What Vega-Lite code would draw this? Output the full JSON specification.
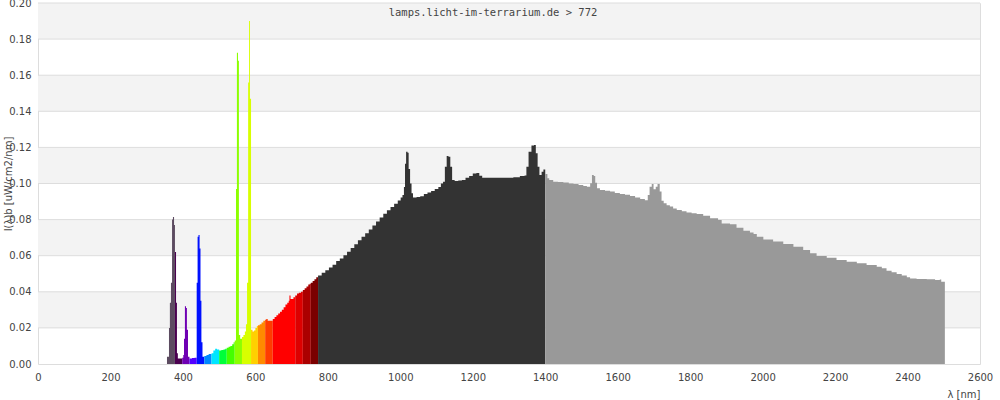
{
  "$schema": "https://vega.github.io/schema/vega-lite/v6.json",
  "width": 942,
  "height": 361,
  "autosize": {"type": "none"},
  "padding": {"left": 38, "top": 3, "right": 20, "bottom": 36},
  "background": "white",
  "config": {
    "view": {"stroke": "#dddddd", "strokeWidth": 1},
    "axis": {"domain": false, "ticks": false, "tickSize": 0, "grid": false, "labelFont": "DejaVu Sans", "labelFontSize": 10, "labelColor": "#444444", "titleFont": "DejaVu Sans", "titleFontSize": 10, "titleFontWeight": "normal", "titleColor": "#444444", "labelFlush": false, "labelOverlap": false, "labelBound": false}
  },
  "title": {"text": "lamps.licht-im-terrarium.de > 772", "font": "DejaVu Sans Mono", "fontSize": 10.5, "fontWeight": "normal", "color": "#444444", "anchor": "middle", "offset": -19, "dx": -16, "dy": 1},
  "datasets": {
    "bands": [
      {"lo": 0.02, "hi": 0.04},
      {"lo": 0.06, "hi": 0.08},
      {"lo": 0.10, "hi": 0.12},
      {"lo": 0.14, "hi": 0.16},
      {"lo": 0.18, "hi": 0.20}
    ],
    "spec": [
      {"w":356,"v":0.004},{"w":359,"v":0.004},{"w":361.5,"v":0.020},{"w":364,"v":0.034},{"w":367,"v":0.045},{"w":370,"v":0.080},{"w":372.5,"v":0.0815},{"w":375.5,"v":0.077},
      {"w":378,"v":0.062},{"w":381,"v":0.034},{"w":383.5,"v":0.006},{"w":386,"v":0.003},{"w":392,"v":0.003},
      {"w":398,"v":0.0035},{"w":401,"v":0.005},{"w":403,"v":0.014},{"w":405.5,"v":0.032},{"w":408.5,"v":0.031},{"w":411,"v":0.019},{"w":414,"v":0.004},
      {"w":418,"v":0.003},{"w":425,"v":0.0033},{"w":432,"v":0.0035},
      {"w":438,"v":0.045},{"w":440.5,"v":0.0705},{"w":443,"v":0.0715},{"w":446,"v":0.064},{"w":448.5,"v":0.035},{"w":451,"v":0.012},{"w":454,"v":0.004},
      {"w":459,"v":0.0045},{"w":465,"v":0.005},{"w":471,"v":0.0055},
      {"w":479,"v":0.006},{"w":484,"v":0.0075},{"w":489,"v":0.0085},{"w":494,"v":0.008},
      {"w":500,"v":0.0075},{"w":506,"v":0.0078},{"w":512,"v":0.008},{"w":517,"v":0.0085},
      {"w":521,"v":0.009},{"w":526,"v":0.0095},{"w":531,"v":0.010},{"w":536,"v":0.011},{"w":540,"v":0.012},
      {"w":543,"v":0.013},{"w":546.5,"v":0.097},{"w":549,"v":0.1725},{"w":552,"v":0.168},{"w":554.5,"v":0.016},{"w":558,"v":0.014},
      {"w":563,"v":0.015},{"w":567,"v":0.016},{"w":571,"v":0.018},{"w":574,"v":0.022},{"w":577,"v":0.045},{"w":580,"v":0.156},{"w":582.5,"v":0.19},{"w":585,"v":0.147},
      {"w":588,"v":0.019},{"w":592,"v":0.018},{"w":596,"v":0.0185},{"w":600,"v":0.020},{"w":604,"v":0.021},
      {"w":607,"v":0.0215},{"w":612,"v":0.022},{"w":617,"v":0.023},{"w":622,"v":0.024},
      {"w":627,"v":0.0245},{"w":630,"v":0.025},{"w":634,"v":0.024},{"w":641,"v":0.024},
      {"w":648,"v":0.025},{"w":653,"v":0.026},{"w":658,"v":0.027},{"w":663,"v":0.028},{"w":668,"v":0.029},{"w":673,"v":0.030},{"w":678,"v":0.0315},{"w":683,"v":0.033},{"w":688,"v":0.034},{"w":692,"v":0.035},{"w":694,"v":0.038},{"w":697,"v":0.036},{"w":701,"v":0.036},{"w":705,"v":0.037},
      {"w":710,"v":0.038},{"w":715,"v":0.039},{"w":720,"v":0.0395},{"w":726,"v":0.040},
      {"w":731,"v":0.041},{"w":736,"v":0.042},{"w":741,"v":0.043},{"w":746,"v":0.044},{"w":750,"v":0.0445},
      {"w":753,"v":0.045},{"w":758,"v":0.046},{"w":763,"v":0.047},{"w":768,"v":0.048},
      {"w":773,"v":0.049},{"w":783,"v":0.0505},{"w":793,"v":0.052},{"w":803,"v":0.0535},{"w":813,"v":0.055},{"w":823,"v":0.057},{"w":833,"v":0.0585},{"w":843,"v":0.0603},{"w":853,"v":0.0622},{"w":863,"v":0.0642},{"w":873,"v":0.0663},{"w":883,"v":0.0685},{"w":893,"v":0.0705},{"w":903,"v":0.0725},{"w":913,"v":0.0745},{"w":923,"v":0.0767},{"w":933,"v":0.079},{"w":943,"v":0.0812},{"w":953,"v":0.0833},{"w":963,"v":0.0852},{"w":973,"v":0.087},{"w":983,"v":0.0888},{"w":993,"v":0.0906},
      {"w":1001,"v":0.0922},{"w":1006,"v":0.0936},{"w":1010,"v":0.098},{"w":1013,"v":0.111},{"w":1016,"v":0.1176},{"w":1020,"v":0.117},{"w":1023,"v":0.108},{"w":1027,"v":0.100},{"w":1031,"v":0.0946},{"w":1035,"v":0.0922},
      {"w":1045,"v":0.0925},{"w":1055,"v":0.093},{"w":1065,"v":0.0942},{"w":1075,"v":0.095},{"w":1085,"v":0.0958},{"w":1095,"v":0.097},{"w":1105,"v":0.098},{"w":1112,"v":0.100},{"w":1118,"v":0.101},
      {"w":1123,"v":0.1093},{"w":1128,"v":0.1152},{"w":1133,"v":0.1148},{"w":1138,"v":0.1093},{"w":1143,"v":0.102},{"w":1150,"v":0.1014},{"w":1160,"v":0.1016},{"w":1170,"v":0.102},{"w":1180,"v":0.1032},{"w":1190,"v":0.1042},{"w":1200,"v":0.1055},{"w":1210,"v":0.1058},{"w":1218,"v":0.1043},{"w":1226,"v":0.1032},
      {"w":1312,"v":0.1035},{"w":1330,"v":0.1042},{"w":1343,"v":0.1045},{"w":1348,"v":0.1093},{"w":1354,"v":0.1176},{"w":1362,"v":0.121},{"w":1369,"v":0.1213},{"w":1374,"v":0.1167},{"w":1379,"v":0.1093},{"w":1384,"v":0.1047},{"w":1390,"v":0.1065},{"w":1395,"v":0.1078},
      {"w":1400,"v":0.1053},{"w":1406,"v":0.1029},{"w":1411,"v":0.1019},{"w":1422,"v":0.101},{"w":1435,"v":0.1008},{"w":1450,"v":0.1006},{"w":1465,"v":0.100},{"w":1478,"v":0.0997},{"w":1492,"v":0.0992},{"w":1505,"v":0.0986},{"w":1515,"v":0.0982},
      {"w":1524,"v":0.1001},{"w":1529,"v":0.1047},{"w":1534,"v":0.1042},{"w":1538,"v":0.1004},{"w":1543,"v":0.0973},{"w":1551,"v":0.0964},{"w":1565,"v":0.096},{"w":1579,"v":0.0955},{"w":1592,"v":0.0948},{"w":1606,"v":0.0942},{"w":1620,"v":0.0937},{"w":1634,"v":0.0931},{"w":1648,"v":0.0922},{"w":1662,"v":0.0914},{"w":1675,"v":0.0907},
      {"w":1683,"v":0.0936},{"w":1688,"v":0.0982},{"w":1694,"v":0.0997},{"w":1699,"v":0.0968},{"w":1705,"v":0.0982},{"w":1710,"v":0.0997},{"w":1716,"v":0.0955},{"w":1721,"v":0.0905},{"w":1727,"v":0.089},{"w":1735,"v":0.088},{"w":1744,"v":0.0872},{"w":1753,"v":0.0862},{"w":1763,"v":0.0853},{"w":1777,"v":0.0846},{"w":1790,"v":0.084},{"w":1804,"v":0.0835},{"w":1818,"v":0.0831},{"w":1836,"v":0.0822},{"w":1855,"v":0.0807},{"w":1877,"v":0.0798},{"w":1887,"v":0.0779},{"w":1910,"v":0.0774},{"w":1928,"v":0.0755},{"w":1947,"v":0.0738},{"w":1965,"v":0.0728},{"w":1975,"v":0.072},{"w":1984,"v":0.0705},
      {"w":2002,"v":0.069},{"w":2029,"v":0.0678},{"w":2057,"v":0.0665},{"w":2085,"v":0.065},{"w":2112,"v":0.0632},{"w":2131,"v":0.0613},{"w":2149,"v":0.0598},{"w":2177,"v":0.0589},{"w":2204,"v":0.0576},{"w":2232,"v":0.0567},{"w":2260,"v":0.0558},{"w":2287,"v":0.0548},{"w":2315,"v":0.0539},{"w":2329,"v":0.053},{"w":2342,"v":0.0517},{"w":2356,"v":0.0508},{"w":2370,"v":0.0499},{"w":2384,"v":0.049},{"w":2398,"v":0.048},{"w":2407,"v":0.0474},{"w":2425,"v":0.0471},{"w":2453,"v":0.0469},{"w":2476,"v":0.0465},{"w":2489,"v":0.0468},{"w":2493,"v":0.0456},
      {"w":2503,"v":0}
    ]
  },
  "layer": [
    {
      "data": {"name": "bands"},
      "mark": {"type": "rect", "color": "#f3f3f3"},
      "encoding": {
        "y": {"field": "lo", "type": "quantitative", "scale": {"domain": [0, 0.2], "nice": false, "zero": true, "padding": 0},
              "axis": {"title": "I(λ)b [uW/cm2/nm]", "values": [0, 0.02, 0.04, 0.06, 0.08, 0.1, 0.12, 0.14, 0.16, 0.18, 0.2], "format": ".2f", "labelPadding": 7, "titleX": -30, "titleY": 180.5, "titleAngle": 270, "titleAlign": "center", "titleBaseline": "middle"}},
        "y2": {"field": "hi"}
      }
    },
    {
      "data": {"name": "bands"},
      "mark": {"type": "rule", "color": "#dddddd", "strokeWidth": 1},
      "encoding": {"y": {"field": "lo", "type": "quantitative",
              "axis": {"title": "I(λ)b [uW/cm2/nm]", "values": [0, 0.02, 0.04, 0.06, 0.08, 0.1, 0.12, 0.14, 0.16, 0.18, 0.2], "format": ".2f", "labelPadding": 7, "titleX": -30, "titleY": 180.5, "titleAngle": 270, "titleAlign": "center", "titleBaseline": "middle"}}}
    },
    {
      "data": {"name": "bands"},
      "mark": {"type": "rule", "color": "#dddddd", "strokeWidth": 1},
      "encoding": {"y": {"field": "hi", "type": "quantitative",
              "axis": {"title": "I(λ)b [uW/cm2/nm]", "values": [0, 0.02, 0.04, 0.06, 0.08, 0.1, 0.12, 0.14, 0.16, 0.18, 0.2], "format": ".2f", "labelPadding": 7, "titleX": -30, "titleY": 180.5, "titleAngle": 270, "titleAlign": "center", "titleBaseline": "middle"}}}
    },
    {
      "data": {"name": "spec"},
      "encoding": {
        "x": {"field": "w", "type": "quantitative", "scale": {"domain": [0, 2600], "nice": false, "zero": false, "padding": 0},
              "axis": {"title": "λ [nm]", "format": "d", "values": [0, 200, 400, 600, 800, 1000, 1200, 1400, 1600, 1800, 2000, 2200, 2400, 2600], "labelPadding": 8, "labelFlush": false, "labelAlign": "center", "titleX": 942, "titleY": 33, "titleAlign": "right", "titleBaseline": "alphabetic"}},
        "y": {"field": "v", "type": "quantitative",
              "axis": {"title": "I(λ)b [uW/cm2/nm]", "values": [0, 0.02, 0.04, 0.06, 0.08, 0.1, 0.12, 0.14, 0.16, 0.18, 0.2], "format": ".2f", "labelPadding": 7, "titleX": -30, "titleY": 180.5, "titleAngle": 270, "titleAlign": "center", "titleBaseline": "middle"}}
      },
      "layer": [
        {"transform": [{"filter": "datum.w >= 356 && datum.w <= 378"}], "mark": {"type": "area", "interpolate": "step-after", "color": "#5c4b60"}},
        {"transform": [{"filter": "datum.w >= 378 && datum.w <= 398"}], "mark": {"type": "area", "interpolate": "step-after", "color": "#4b0050"}},
        {"transform": [{"filter": "datum.w >= 398 && datum.w <= 418"}], "mark": {"type": "area", "interpolate": "step-after", "color": "#6f00b3"}},
        {"transform": [{"filter": "datum.w >= 418 && datum.w <= 438"}], "mark": {"type": "area", "interpolate": "step-after", "color": "#5200ff"}},
        {"transform": [{"filter": "datum.w >= 438 && datum.w <= 459"}], "mark": {"type": "area", "interpolate": "step-after", "color": "#0010ff"}},
        {"transform": [{"filter": "datum.w >= 459 && datum.w <= 479"}], "mark": {"type": "area", "interpolate": "step-after", "color": "#0088ff"}},
        {"transform": [{"filter": "datum.w >= 479 && datum.w <= 500"}], "mark": {"type": "area", "interpolate": "step-after", "color": "#00e5ff"}},
        {"transform": [{"filter": "datum.w >= 500 && datum.w <= 521"}], "mark": {"type": "area", "interpolate": "step-after", "color": "#00ff3a"}},
        {"transform": [{"filter": "datum.w >= 521 && datum.w <= 543"}], "mark": {"type": "area", "interpolate": "step-after", "color": "#44ff00"}},
        {"transform": [{"filter": "datum.w >= 543 && datum.w <= 563"}], "mark": {"type": "area", "interpolate": "step-after", "color": "#8cff00"}},
        {"transform": [{"filter": "datum.w >= 563 && datum.w <= 588"}], "mark": {"type": "area", "interpolate": "step-after", "color": "#d8ff00"}},
        {"transform": [{"filter": "datum.w >= 588 && datum.w <= 607"}], "mark": {"type": "area", "interpolate": "step-after", "color": "#ffd000"}},
        {"transform": [{"filter": "datum.w >= 607 && datum.w <= 627"}], "mark": {"type": "area", "interpolate": "step-after", "color": "#ff8a00"}},
        {"transform": [{"filter": "datum.w >= 627 && datum.w <= 648"}], "mark": {"type": "area", "interpolate": "step-after", "color": "#ff3c00"}},
        {"transform": [{"filter": "datum.w >= 648 && datum.w <= 710"}], "mark": {"type": "area", "interpolate": "step-after", "color": "#ff0000"}},
        {"transform": [{"filter": "datum.w >= 710 && datum.w <= 731"}], "mark": {"type": "area", "interpolate": "step-after", "color": "#dd0000"}},
        {"transform": [{"filter": "datum.w >= 731 && datum.w <= 753"}], "mark": {"type": "area", "interpolate": "step-after", "color": "#ab0000"}},
        {"transform": [{"filter": "datum.w >= 753 && datum.w <= 773"}], "mark": {"type": "area", "interpolate": "step-after", "color": "#7a0000"}},
        {"transform": [{"filter": "datum.w >= 773 && datum.w <= 1400"}], "mark": {"type": "area", "interpolate": "step-after", "color": "#333333"}},
        {"transform": [{"filter": "datum.w >= 1400"}], "mark": {"type": "area", "interpolate": "step-after", "color": "#999999"}}
      ]
    }
  ]
}
